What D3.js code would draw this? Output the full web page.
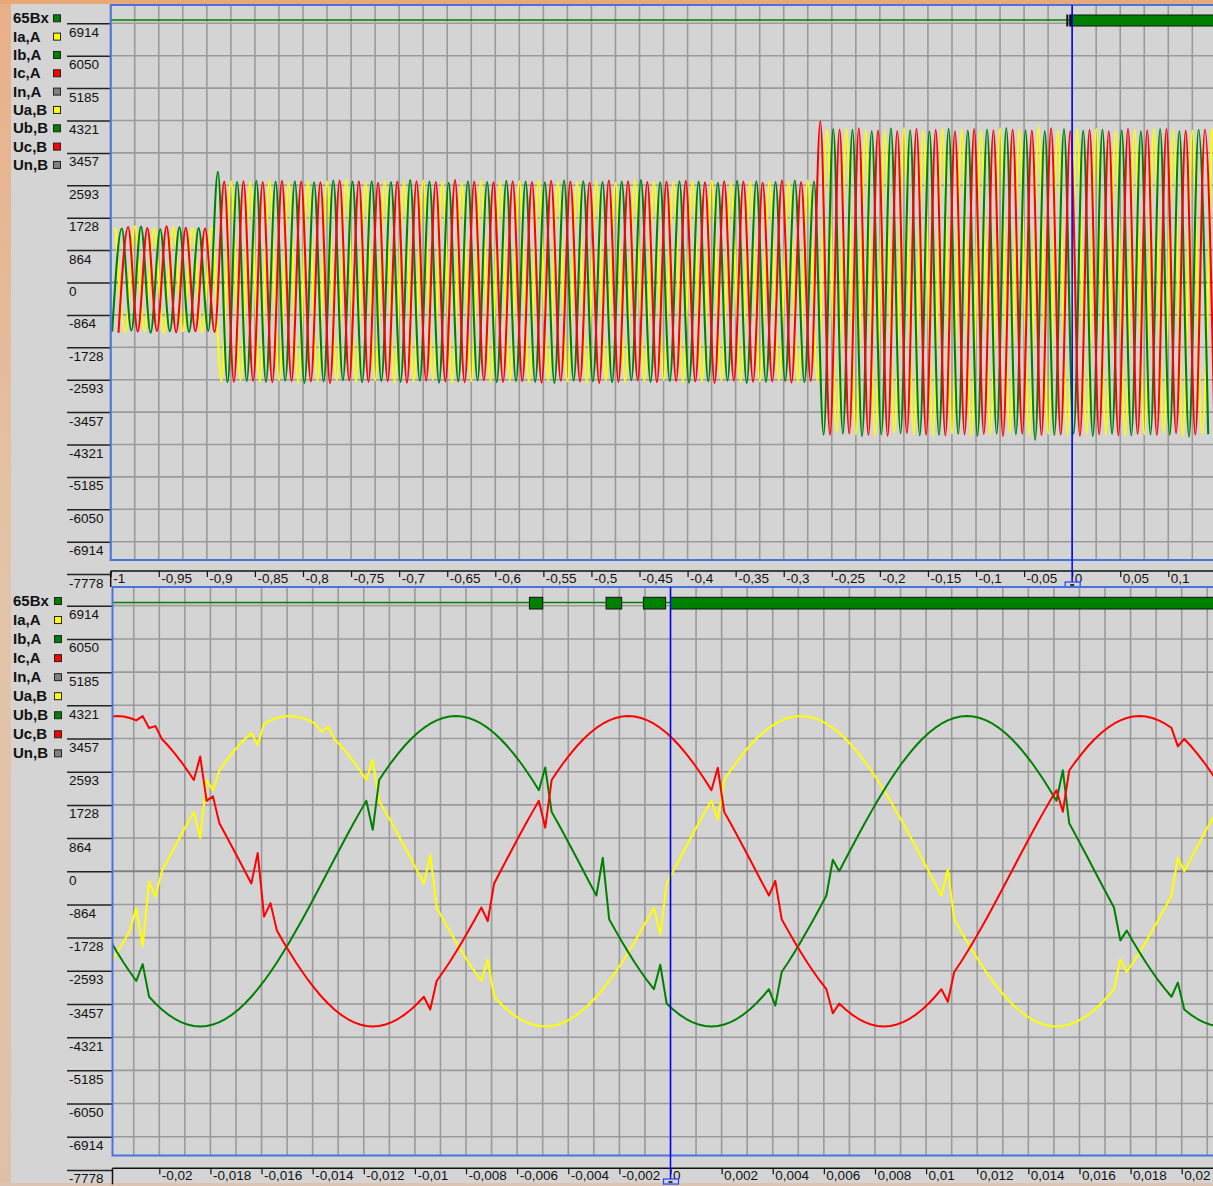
<!DOCTYPE html>
<html><head><meta charset="utf-8">
<script src="https://cdn.jsdelivr.net/npm/d3@7"></script>
<style>
html,body{margin:0;padding:0;background:#d4d4d4;overflow:hidden}
svg{display:block}
text{font-family:"Liberation Sans",Arial,sans-serif}
</style></head><body>
<svg id="c" width="1213" height="1186"></svg>
<script>
// ---------------- DATA ----------------
const channelNames = ["65Bx","Ia,A","Ib,A","Ic,A","In,A","Ua,B","Ub,B","Uc,B","Un,B"];
const channelColors = ["#008000","#ffff00","#008000","#ff0000","#808080","#ffff00","#008000","#ff0000","#808080"];

const yTickValues = [6914,6050,5185,4321,3457,2593,1728,864,0,-864,-1728,-2593,-3457,-4321,-5185,-6050,-6914,-7778];
const xTicksTop = [-1,-0.95,-0.9,-0.85,-0.8,-0.75,-0.7,-0.65,-0.6,-0.55,-0.5,-0.45,-0.4,-0.35,-0.3,-0.25,-0.2,-0.15,-0.1,-0.05,0,0.05,0.1];
const xTicksBottom = [-0.02,-0.018,-0.016,-0.014,-0.012,-0.01,-0.008,-0.006,-0.004,-0.002,0,0.002,0.004,0.006,0.008,0.01,0.012,0.014,0.016,0.018,0.02];

// discrete input 65Bx "on" intervals, seconds
const input65On = [[-0.00552,-0.0050],[-0.00252,-0.00191],[-0.00106,-0.00019],[0,0.3]];

// top (overview) record: half-cycle peak values, one every 10 ms, first peak time per phase
const topStep = 0.01;
const topStartIa = -0.9949, topStartIb = -0.9985, topStartIc = -0.9919;
const topIa = [1460,-1320,1500,-1290,1430,-1350,1480,-1300,1450,-1330,1470,
 -2640,2700,-2610,2680,-2650,2720,-2600,2660,-2680,2700,
 -2630,2690,-2620,2740,-2650,2670,-2610,2700,-2660,2680,
 -2640,2720,-2600,2690,-2670,2650,-2630,2710,-2650,2680,
 -2620,2700,-2660,2730,-2610,2670,-2640,2690,-2680,2700,
 -2620,2660,-2650,2720,-2630,2690,-2600,2680,-2670,2700,
 -2640,2710,-2620,2660,-2650,2690,-2630,2700,-2610,2680,
 -2660,2720,-2640,
 4080,-4020,4110,-4050,4060,-4090,4030,-4010,4120,-4060,
 4050,-4080,4090,-4030,4070,-4100,4040,-4050,4110,-4020,
 4060,-4070,4150,-4040,4050,-4090,4080,-4030,4100,-4060,
 4040,-4080,4070,-4050,4090,-4020,4060,-4110,4050,-4040,
 4080];
const topIb = [-1310,1440,-1280,1490,-1340,1420,-1300,1470,-1320,1450,-1290,
 2950,-2660,2680,-2630,2710,-2650,2690,-2620,2700,-2680,
 2670,-2640,2720,-2610,2690,-2660,2700,-2630,2680,-2650,
 2730,-2620,2690,-2670,2660,-2640,2700,-2610,2680,-2660,
 2710,-2630,2690,-2650,2670,-2680,2720,-2620,2700,-2640,
 2680,-2660,2690,-2610,2730,-2650,2670,-2630,2700,-2670,
 2690,-2640,2660,-2620,2710,-2680,2700,-2650,2680,-2630,
 2720,-2660,2690,
 -4060,4090,-4030,4070,-4100,4040,-4050,4110,-4020,4060,
 -4080,4030,-4070,4100,-4040,4050,-4090,4080,-4030,4120,
 -4050,4060,-4200,4040,-4070,4090,-4030,4050,-4100,4080,
 -4040,4060,-4080,4030,-4050,4090,-4060,4040,-4110,4070,
 -4050];
const topIc = [-1340,1480,-1310,1450,-1290,1500,-1330,1460,-1300,1440,-1320,
 2690,-2650,2700,-2620,2680,-2660,2710,-2630,2690,-2640,
 2670,-2680,2720,-2610,2700,-2650,2660,-2630,2690,-2670,
 2700,-2620,2680,-2640,2730,-2660,2690,-2610,2670,-2650,
 2700,-2630,2680,-2670,2710,-2620,2690,-2640,2660,-2680,
 2720,-2650,2700,-2610,2680,-2660,2690,-2630,2710,-2640,
 2670,-2680,2700,-2620,2690,-2650,2660,-2640,2720,-2670,
 2680,-2630,
 4300,-4060,4080,-4030,4110,-4070,4050,-4090,4040,-4020,
 4100,-4060,4070,-4080,4030,-4050,4090,-4040,4060,-4100,
 4080,-4030,4050,-4070,4110,-4060,4040,-4090,4070,-4050,
 4030,-4080,4100,-4040,4060,-4070,4090,-4020,4050,-4060,
 4080,-4050];

// bottom (zoomed) record: samples every 0.25 ms starting at -21.9 ms
const sampleStep = 0.00025, sampleStart = -0.0219;
const botIa = [-2375,-2111,-1834,-1546,-960,-1958,-270,-660,0,317,
 632,943,1248,1546,865,2370,2110,2624,2857,3072,
 3268,3445,3600,3290,3842,3928,3990,4028,4040,4028,
 3990,3928,3842,3630,3770,3445,3268,3072,2857,2624,
 2375,2900,1834,1546,1248,943,632,317,0,-317,
 430,-943,-1248,-1546,-1834,-2111,-2375,-2624,-2857,-2300,
 -3268,-3445,-3600,-3732,-3842,-3928,-3990,-4028,-4040,-4028,
 -3990,-3928,-3842,-3732,-3600,-3445,-3268,-3072,-2857,-2624,
 -2375,-2111,-1834,-1546,-1248,-943,-1650,-317,0,317,
 632,943,1248,1546,1834,1340,2375,2624,2857,3072,
 3268,3445,3600,3732,3842,3928,3990,4028,4040,4028,
 3990,3928,3842,3732,3600,3445,3268,3072,2857,2624,
 2375,2111,1834,1546,1248,943,632,317,0,-317,
 -632,50,-1248,-1546,-1834,-2111,-2375,-2624,-2857,-3072,
 -3268,-3445,-3600,-3732,-3842,-3928,-3990,-4028,-4040,-4028,
 -3990,-3928,-3842,-3732,-3600,-3445,-3268,-3072,-2300,-2624,
 -2375,-2111,-1834,-1546,-1248,-943,-632,350,0,317,
 632,943,1248,1546,1834];
const botIb = [-1834,-2111,-2375,-2624,-2857,-2420,-3268,-3445,-3600,-3732,
 -3842,-3928,-3990,-4028,-4040,-4028,-3990,-3928,-3842,-3732,
 -3600,-3445,-3268,-3072,-2857,-2624,-2375,-2111,-1834,-1546,
 -1248,-943,-632,-317,0,317,632,943,1248,1546,
 1834,1080,2375,2624,2857,3072,3268,3445,3600,3732,
 3842,3928,3990,4028,4040,4028,3990,3928,3842,3732,
 3600,3445,3268,3072,2857,2624,2375,2111,2700,1546,
 1248,943,632,317,0,-317,-632,350,-1248,-1546,
 -1834,-2111,-2375,-2624,-2857,-3072,-2435,-3445,-3600,-3732,
 -3842,-3928,-3990,-4028,-4040,-4028,-3990,-3928,-3842,-3732,
 -3600,-3445,-3268,-3072,-3500,-2624,-2375,-2111,-1834,-1546,
 -1248,-943,-632,300,0,317,632,943,1248,1546,
 1834,2111,2375,2624,2857,3072,3268,3445,3600,3732,
 3842,3928,3990,4028,4040,4028,3990,3928,3842,3732,
 3600,3445,3268,3072,2857,2624,2375,2111,1834,2630,
 1248,943,632,317,0,-317,-632,-943,-1800,-1546,
 -1834,-2111,-2375,-2624,-2857,-3072,-3268,-2900,-3600,-3732,
 -3842,-3928,-3990,-4028,-4040];
const botIc = [4028,4040,4028,3990,3928,4040,3732,3780,3445,3268,
 3072,2857,2624,2375,2990,1834,1950,1248,943,632,
 317,0,-317,474,-1180,-830,-1546,-1834,-2111,-2375,
 -2624,-2857,-3072,-3268,-3445,-3600,-3732,-3842,-3928,-3990,
 -4028,-4040,-4028,-3990,-3928,-3842,-3732,-3600,-3445,-3268,
 -3600,-2857,-2624,-2375,-2111,-1834,-1546,-1248,-943,-1300,
 -317,0,317,632,943,1248,1546,1834,1133,2375,
 2624,2857,3072,3268,3445,3600,3732,3842,3928,3990,
 4028,4040,4028,3990,3928,3842,3732,3600,3445,3268,
 3072,2857,2624,2375,2111,2695,1546,1248,943,632,
 317,0,-317,-632,-250,-1248,-1546,-1834,-2111,-2375,
 -2624,-2857,-3072,-3700,-3445,-3600,-3732,-3842,-3928,-3990,
 -4028,-4040,-4028,-3990,-3928,-3842,-3732,-3600,-3445,-3268,
 -3072,-3400,-2624,-2375,-2111,-1834,-1546,-1248,-943,-632,
 -317,0,317,632,943,1248,1546,1834,2111,1550,
 2624,2857,3072,3268,3445,3600,3732,3842,3928,3990,
 4028,4040,4028,3990,3928,3842,3732,3250,3445,3268,
 3072,2857,2624,2375,2111];

// ---------------- DRAW ----------------
const W = 1213, H = 1186;
const svg = d3.select('#c');
const defs = svg.append('defs');
const grad = defs.append('linearGradient').attr('id','wall').attr('x1',0).attr('y1',0).attr('x2',0).attr('y2',1);
grad.append('stop').attr('offset','0%').attr('stop-color','#e8b088');
grad.append('stop').attr('offset','50%').attr('stop-color','#e2c4a8');
grad.append('stop').attr('offset','100%').attr('stop-color','#dcc0a8');
svg.append('rect').attr('width',W).attr('height',H).attr('fill','#d4d4d4');
svg.append('rect').attr('x',0).attr('y',0).attr('width',11).attr('height',H).attr('fill','url(#wall)');
svg.append('rect').attr('x',0).attr('y',0).attr('width',W).attr('height',4).attr('fill','#e8a878');
svg.append('rect').attr('x',0).attr('y',1183).attr('width',W).attr('height',3).attr('fill','#dcc4b0');

const fmt = v => String(v).replace('.', ',');
const yLimit = 7402, tickStepV = 864.25;

const panels = [
  {id:'top', left:110.7, right:1213, top:5, bottom:560, xDomain:[-1,0.1], xRange:[110.7,1168.3],
   gridStart:-1, gridEnd:0.16, gridStep:0.025, xTicks:xTicksTop, axisY:571, legY0:18.3, legStep:18.33, sqX:53.5,
   cursorEnd:582, barTop:15, barH:11, lineY:20,
   series:[{v:topIa,t0:topStartIa,dt:topStep,c:'#ffff00'},{v:topIb,t0:topStartIb,dt:topStep,c:'#008000'},{v:topIc,t0:topStartIc,dt:topStep,c:'#ff0000'}],
   curve:d3.curveMonotoneX, sw:2.1},
  {id:'bot', left:112.5, right:1213, top:587, bottom:1155.5, xDomain:[-0.02,0.02], xRange:[159.3,1181.7],
   gridStart:-0.022, gridEnd:0.0225, gridStep:0.001, xTicks:xTicksBottom, axisY:1168.3, legY0:601, legStep:19.04, sqX:54.5,
   cursorEnd:1179, barTop:597.3, barH:11.7, lineY:602.5,
   series:[{v:botIa,t0:sampleStart,dt:sampleStep,c:'#ffff00'},{v:botIb,t0:sampleStart,dt:sampleStep,c:'#008000'},{v:botIc,t0:sampleStart,dt:sampleStep,c:'#ff0000'}],
   curve:d3.curveLinear, sw:2}
];

panels.forEach(p => {
  const x = d3.scaleLinear().domain(p.xDomain).range(p.xRange);
  const y = d3.scaleLinear().domain([-yLimit, yLimit]).range([p.bottom, p.top]);
  const g = svg.append('g');
  defs.append('clipPath').attr('id','clip-'+p.id).append('rect')
    .attr('x',p.left).attr('y',p.top).attr('width',p.right-p.left).attr('height',p.bottom-p.top);

  // legend
  channelNames.forEach((n,i) => {
    const cy = p.legY0 + i*p.legStep;
    g.append('text').attr('x',13).attr('y',cy+5).attr('font-size','15px').attr('font-weight','bold')
      .attr('fill','#111').text(n);
    g.append('rect').attr('x',p.sqX).attr('y',cy-3.5).attr('width',7).attr('height',7)
      .attr('fill',channelColors[i]).attr('stroke','#222').attr('stroke-width',1);
  });

  // grid
  const grid = g.append('g').attr('clip-path','url(#clip-'+p.id+')');
  const gx = d3.range(Math.round((p.gridEnd-p.gridStart)/p.gridStep)+1).map(k => p.gridStart + k*p.gridStep);
  grid.selectAll('line.vx').data(gx).join('line')
    .attr('x1',d=>x(d)).attr('x2',d=>x(d)).attr('y1',p.top).attr('y2',p.bottom)
    .attr('stroke','#9a9a9a').attr('stroke-width',1.6);
  const gy = d3.range(-8,9).map(k => k*tickStepV);
  grid.selectAll('line.hy').data(gy).join('line')
    .attr('x1',p.left).attr('x2',p.right).attr('y1',d=>y(d)).attr('y2',d=>y(d))
    .attr('stroke',d=>d===0?'#808080':'#9a9a9a').attr('stroke-width',d=>d===0?2.2:1.6);

  // y axis (tick lines left of plot, labels under each line)
  const ya = d3.axisLeft(y).tickValues(yTickValues).tickFormat(d=>String(d)).tickSize(p.left-67).tickSizeOuter(0);
  const yg = g.append('g').attr('transform',`translate(${p.left},0)`).call(ya);
  yg.select('.domain').remove();
  yg.selectAll('.tick line').attr('stroke','#222').attr('stroke-width',1.5);
  yg.selectAll('.tick text').attr('x',-(p.left-69)).attr('dy',13).attr('text-anchor','start')
    .attr('font-size','13.5px').attr('fill','#111').attr('font-family','"Liberation Sans",Arial,sans-serif');

  // x axis
  const xa = d3.axisBottom(x).tickValues(p.xTicks).tickFormat(fmt).tickSize(6).tickSizeOuter(0);
  const xg = g.append('g').attr('transform',`translate(0,${p.axisY})`).call(xa);
  xg.select('.domain').attr('d',`M${p.left},0H${W}`).attr('stroke','#111').attr('stroke-width',1.5);
  xg.selectAll('.tick line').attr('stroke','#111').attr('stroke-width',1.2);
  xg.selectAll('.tick text').attr('x',2).attr('y',2).attr('dy','0.75em').attr('text-anchor','start')
    .attr('font-size','13.5px').attr('fill','#111').attr('font-family','"Liberation Sans",Arial,sans-serif');
  g.append('line').attr('x1',p.left).attr('x2',p.left).attr('y1',p.axisY).attr('y2',p.axisY+16)
    .attr('stroke','#111').attr('stroke-width',1.5);

  // waveforms
  const plot = g.append('g').attr('clip-path','url(#clip-'+p.id+')');
  const line = d3.line().x(d=>x(d.t)).y(d=>y(d.v)).curve(p.curve);
  p.series.forEach(s => {
    const pts = s.v.map((v,i)=>({t:s.t0 + i*s.dt, v}));
    plot.append('path').datum(pts).attr('d',line).attr('fill','none')
      .attr('stroke',s.c).attr('stroke-width',p.sw).attr('stroke-linejoin','round');
  });

  // discrete channel 65Bx
  const firstOn = d3.min(input65On, d=>d[0]);
  plot.append('line').attr('x1',p.left).attr('x2',x(firstOn)).attr('y1',p.lineY).attr('y2',p.lineY)
    .attr('stroke','#008000').attr('stroke-width',1.6);
  plot.append('line').attr('x1',p.left).attr('x2',x(firstOn)).attr('y1',p.lineY+2.3).attr('y2',p.lineY+2.3)
    .attr('stroke','#b8b8b8').attr('stroke-width',1);
  for (let k=0;k<input65On.length-1;k++){
    plot.append('line').attr('x1',x(input65On[k][1])).attr('x2',x(input65On[k+1][0]))
      .attr('y1',p.lineY).attr('y2',p.lineY).attr('stroke','#008000').attr('stroke-width',1.6);
  }
  plot.selectAll('rect.on').data(input65On).join('rect')
    .attr('x',d=>x(d[0])).attr('width',d=>Math.max(1,x(d[1])-x(d[0])))
    .attr('y',p.barTop).attr('height',p.barH)
    .attr('fill','#008000').attr('stroke','#111').attr('stroke-width',1);

  // frame
  g.append('path').attr('d',`M${W},${p.top}H${p.left}V${p.bottom}H${W}`).attr('fill','none')
    .attr('stroke','#4a72e0').attr('stroke-width',2);

  // cursor at t = 0
  const cx = x(0);
  g.append('line').attr('x1',cx).attr('x2',cx).attr('y1',p.top).attr('y2',p.cursorEnd)
    .attr('stroke','#0000ff').attr('stroke-width',1.5);
  g.append('rect').attr('x',cx-7).attr('y',p.cursorEnd).attr('width',15).attr('height',5)
    .attr('fill','#d4d4d4').attr('stroke','#2040ff').attr('stroke-width',1.2);
  g.append('line').attr('x1',cx-2).attr('x2',cx+2).attr('y1',p.cursorEnd+3).attr('y2',p.cursorEnd+3)
    .attr('stroke','#000').attr('stroke-width',1.5);
});
</script>
</body></html>
